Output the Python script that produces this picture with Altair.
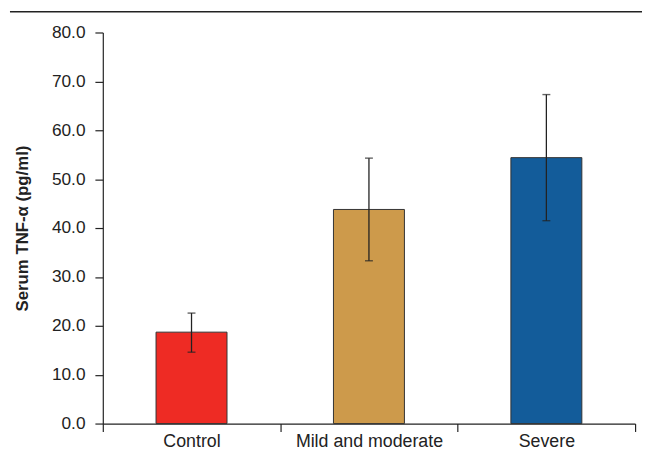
import altair as alt
import pandas as pd

groups = ["Control", "Mild and moderate", "Severe"]
means = [18.7, 43.8, 54.4]
err_low = [14.6, 33.3, 41.5]
err_high = [22.6, 54.3, 67.3]
colors = ["#EE2B24", "#CD9A4B", "#135C9A"]
y_ticks = [0, 10, 20, 30, 40, 50, 60, 70, 80]

df = pd.DataFrame({"group": groups, "mean": means, "lo": err_low, "hi": err_high})

W, H = 539, 396
FONT = "Liberation Sans"
INK = "#222222"

x_enc = alt.X(
    "group:N", sort=groups,
    scale=alt.Scale(paddingInner=0, paddingOuter=0),
    axis=alt.Axis(title=None, labelAngle=0, tickBand="extent", tickSize=8,
                  domainColor=INK, tickColor=INK, domainWidth=1.2, tickWidth=1.2,
                  labelFont=FONT, labelFontSize=18, labelColor=INK, labelPadding=1,
                  grid=False),
)
y_enc = alt.Y(
    "mean:Q",
    scale=alt.Scale(domain=[0, 80], nice=False),
    axis=alt.Axis(values=y_ticks, format=".1f", title="Serum TNF-α (pg/ml)",
                  titleFont=FONT, titleFontSize=17, titleFontWeight="bold",
                  titleColor=INK, titlePadding=20,
                  tickSize=8, tickColor=INK, domainColor=INK, domainWidth=1.2, tickWidth=1.2,
                  labelFont=FONT, labelFontSize=17.5, labelColor=INK, labelPadding=10,
                  grid=False),
)

base = alt.Chart(df)

bars = base.mark_bar(width=alt.RelativeBandSize(0.4), stroke="#333333", strokeWidth=1).encode(
    x=x_enc, y=y_enc,
    color=alt.Color("group:N", scale=alt.Scale(domain=groups, range=colors), legend=None),
)

whisk = base.mark_rule(color=INK, strokeWidth=1.3).encode(
    x=alt.X("group:N", sort=groups), y="lo:Q", y2="hi:Q"
)
cap_hi = base.mark_tick(color=INK, size=8, thickness=1.4).encode(
    x=alt.X("group:N", sort=groups), y="hi:Q"
)
cap_lo = base.mark_tick(color=INK, size=8, thickness=1.4).encode(
    x=alt.X("group:N", sort=groups), y="lo:Q"
)

top_line = alt.Chart(pd.DataFrame({"a": [0]})).mark_rule(color=INK, strokeWidth=1.3, clip=False).encode(
    x=alt.value(-94), x2=alt.value(W + 10), y=alt.value(-21)
)

chart = alt.layer(bars, whisk, cap_hi, cap_lo, top_line).properties(
    width=W, height=H,
    autosize=alt.AutoSizeParams(type="none"),
    padding={"left": 96, "top": 22, "right": 7, "bottom": 27},
).configure_view(stroke=None)

chart.save("out.html", embed_options={"renderer": "svg", "actions": False})
